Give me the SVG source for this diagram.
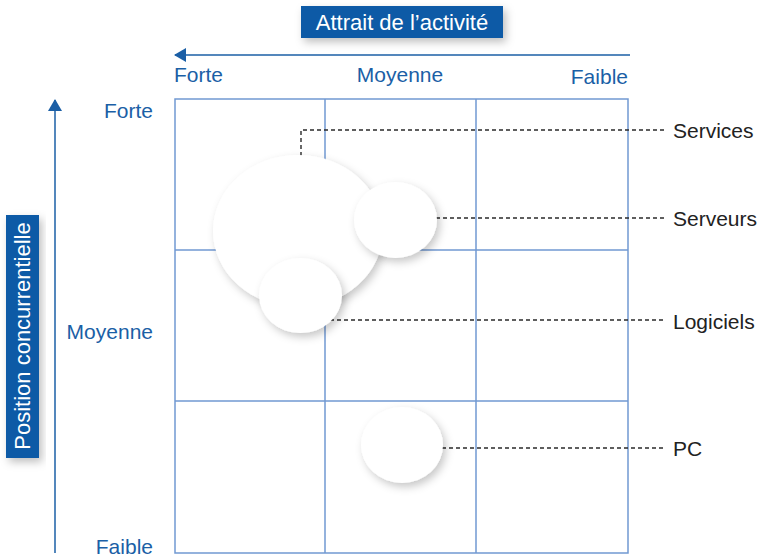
<svg xmlns="http://www.w3.org/2000/svg" width="761" height="558" viewBox="0 0 761 558">
<defs>
<style>
.lbl{font-family:"Liberation Sans",Arial,sans-serif;font-size:21px;fill:#1b5fa6}
.cat{font-family:"Liberation Sans",Arial,sans-serif;font-size:21px;fill:#222}
.ttl{font-family:"Liberation Sans",Arial,sans-serif;font-size:22px;fill:#fff}
.grid{stroke:#7199d2;stroke-width:1.5;fill:none}
.axis{stroke:#1b5fa6;stroke-width:1.5;fill:none}
.lead{stroke:#2a2a2a;stroke-width:1.4;stroke-dasharray:4 3;fill:none}
.bub{fill:#fff;filter:url(#sh)}
.box{fill:#0b5aa6;filter:url(#bsh)}
</style>
<filter id="sh" x="-30%" y="-30%" width="160%" height="160%">
<feDropShadow dx="3" dy="4" stdDeviation="4" flood-color="#000" flood-opacity="0.22"/>
</filter>
<filter id="bsh" x="-20%" y="-30%" width="140%" height="170%">
<feDropShadow dx="3" dy="4" stdDeviation="4" flood-color="#000" flood-opacity="0.25"/>
</filter>
<marker id="ah" viewBox="0 0 12 14" refX="11" refY="7" markerWidth="12" markerHeight="14" markerUnits="userSpaceOnUse" orient="auto">
<path d="M0,0 L12,7 L0,14 Z" fill="#1b5fa6"/>
</marker>
</defs>
<g id="titles">
<rect class="box" x="301" y="6" width="202" height="32"/>
<text class="ttl" x="402" y="30" text-anchor="middle">Attrait de l’activité</text>
<rect class="box" x="6" y="215" width="33" height="243"/>
<text class="ttl" transform="translate(30,336) rotate(-90)" text-anchor="middle">Position concurrentielle</text>
</g>
<g id="axes">
<line class="axis" x1="630" y1="55" x2="175" y2="55" marker-end="url(#ah)"/>
<line class="axis" x1="55" y1="553" x2="55" y2="100" marker-end="url(#ah)"/>
<text class="lbl" x="174" y="82">Forte</text>
<text class="lbl" x="400" y="82" text-anchor="middle">Moyenne</text>
<text class="lbl" x="628" y="84" text-anchor="end">Faible</text>
<text class="lbl" x="153" y="118" text-anchor="end">Forte</text>
<text class="lbl" x="153" y="339" text-anchor="end">Moyenne</text>
<text class="lbl" x="153" y="554" text-anchor="end">Faible</text>
</g>
<g id="grid">
<rect class="grid" x="175" y="99" width="453" height="454"/>
<line class="grid" x1="325" y1="99" x2="325" y2="553"/>
<line class="grid" x1="476" y1="99" x2="476" y2="553"/>
<line class="grid" x1="175" y1="250" x2="628" y2="250"/>
<line class="grid" x1="175" y1="401" x2="628" y2="401"/>
</g>
<g id="connectors">
<polyline class="lead" points="301,156 301,130 665,130"/>
<line class="lead" x1="436" y1="218" x2="665" y2="218"/>
<line class="lead" x1="330" y1="320" x2="665" y2="320"/>
<line class="lead" x1="442" y1="448" x2="665" y2="448"/>
</g>
<g id="services">
<ellipse class="bub" cx="298" cy="231" rx="85" ry="76"/>
<text class="cat" x="673" y="138">Services</text>
</g>
<g id="serveurs">
<ellipse class="bub" cx="395.5" cy="220" rx="41.5" ry="38"/>
<text class="cat" x="673" y="226">Serveurs</text>
</g>
<g id="logiciels">
<ellipse class="bub" cx="300.5" cy="295.5" rx="41.5" ry="37.5"/>
<text class="cat" x="673" y="329">Logiciels</text>
</g>
<g id="pc">
<ellipse class="bub" cx="402" cy="445" rx="41" ry="38"/>
<text class="cat" x="673" y="456">PC</text>
</g>
</svg>
